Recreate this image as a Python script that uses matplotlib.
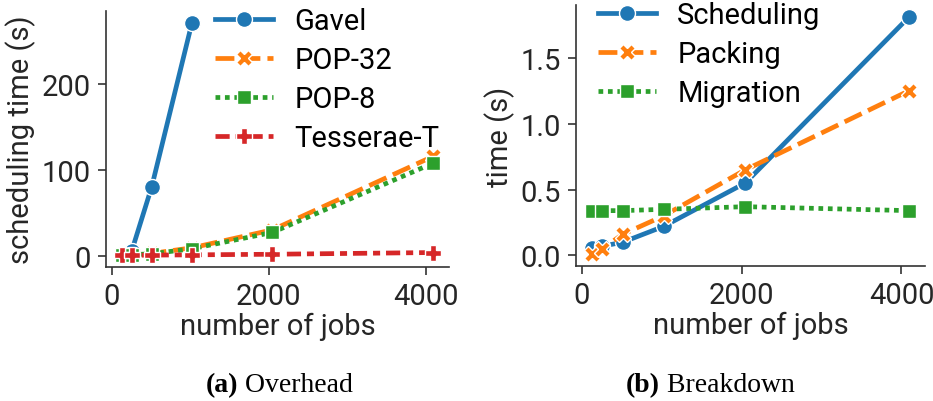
import matplotlib
matplotlib.use("Agg")
import matplotlib.pyplot as plt

plt.rcParams["font.family"] = ["Roboto", "DejaVu Sans"]
plt.rcParams["font.size"] = 21

# data
jobs = [128, 256, 512, 1024, 2048, 4096]
gavel_jobs = [128, 256, 512, 1024]
gavel = [1.0, 5.0, 80.5, 272.0]
pop32 = [0.5, 1.0, 2.5, 9.0, 30.0, 116.0]
pop8 = [0.5, 1.0, 2.0, 8.0, 27.0, 108.0]
tesserae_t = [0.2, 0.3, 0.5, 0.8, 1.5, 3.5]

sched = [0.06, 0.07, 0.10, 0.22, 0.55, 1.81]
packing = [0.01, 0.05, 0.16, 0.30, 0.65, 1.25]
migration = [0.34, 0.34, 0.34, 0.35, 0.37, 0.34]

left_labels = ["Gavel", "POP-32", "POP-8", "Tesserae-T"]
right_labels = ["Scheduling", "Packing", "Migration"]
captions = [("(a)", " Overhead"), ("(b)", " Breakdown")]

colors = ["#1f77b4", "#ff7f0e", "#2ca02c", "#d62728"]
# seaborn-like dashes and markers
styles = [(None, "o"), ((4, 1.5), "X"), ((1, 1), (4, 0, 45)),
          ((3, 1.25, 1.5, 1.25), "P")]
W, H = 933, 402
serif = ["Liberation Serif", "DejaVu Serif"]


def draw(ax, xs_list, ys_list, labels, leg_xy):
    for i, (xs, ys, lab) in enumerate(zip(xs_list, ys_list, labels)):
        dash, mk = styles[i]
        ms = 14 if i == 2 else 11.5
        line, = ax.plot(xs, ys, color=colors[i], lw=3.4, marker=mk, ms=ms,
                        mec="white", mew=1.0, label=lab)
        if dash is not None:
            line.set_dashes(dash)
    for s in ["top", "right"]:
        ax.spines[s].set_visible(False)
    for s in ["left", "bottom"]:
        ax.spines[s].set_linewidth(1.2)
        ax.spines[s].set_color("#333333")
    ax.tick_params(length=6, width=1.2, color="#333333", labelcolor="#262626", pad=5)
    ax.set_xlabel("number of jobs", color="#262626", labelpad=1)
    ax.margins(x=0.05, y=0.05)
    ax.set_xticks([0, 2000, 4000])
    ax.legend(loc="upper left", frameon=False, handlelength=2.0,
              handletextpad=0.72, labelspacing=0.38, borderaxespad=0.0,
              borderpad=0.0, bbox_to_anchor=(leg_xy[0] / W, 1 - leg_xy[1] / H),
              bbox_transform=fig.transFigure)


fig = plt.figure(figsize=(9.33, 4.02), dpi=100)
ax1 = fig.add_axes([106 / W, 1 - 268 / H, (449 - 106) / W, (268 - 12) / H])
ax2 = fig.add_axes([576 / W, 1 - 267 / H, (925 - 576) / W, (267 - 6) / H])

draw(ax1, [gavel_jobs, jobs, jobs, jobs], [gavel, pop32, pop8, tesserae_t],
     left_labels, (215, 8))
ax1.set_ylabel("scheduling time (s)", color="#262626", labelpad=4)
ax1.set_yticks([0, 100, 200])

draw(ax2, [jobs, jobs, jobs], [sched, packing, migration], right_labels, (598, 2))
ax2.set_ylabel("time (s)", color="#262626", labelpad=4)
ax2.set_yticks([0.0, 0.5, 1.0, 1.5])

# captions: bold "(a)" followed by regular text, centred as one piece
fig.canvas.draw()
rend = fig.canvas.get_renderer()
for (bold, rest), xc in zip(captions, [279, 710]):
    yc = 1 - 386 / H
    tb = fig.text(0, yc, bold, ha="left", va="center", fontsize=20,
                  fontweight="bold", family=serif)
    tr = fig.text(0, yc, rest, ha="left", va="center", fontsize=20, family=serif)
    wb = tb.get_window_extent(rend).width
    wr = tr.get_window_extent(rend).width
    x0 = xc - (wb + wr) / 2
    tb.set_x(x0 / W)
    tr.set_x((x0 + wb) / W)

fig.savefig("out.png", dpi=100)
